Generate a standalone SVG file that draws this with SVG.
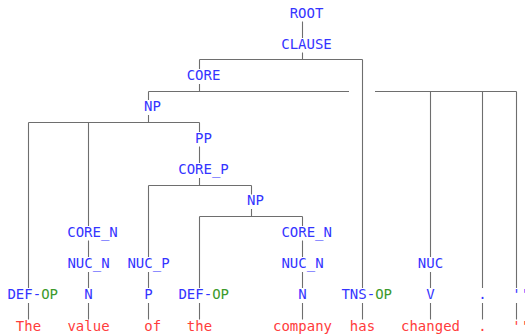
<svg xmlns="http://www.w3.org/2000/svg" width="525" height="334" viewBox="0 0 525 334">
<style>
text{font-family:"DejaVu Sans Mono","Liberation Mono",monospace;font-size:14px;text-anchor:middle}
.l{fill:#3434ff}
.g{fill:#3c9a2c}
.w{fill:#ff3c3c}
#edges line{stroke:#6e6e6e;stroke-width:1.1;fill:none}
</style>
<rect width="525" height="334" fill="#ffffff"/>
<g id="edges">
<line x1="302.5" y1="21.5" x2="302.5" y2="38"/>
<line x1="302.5" y1="52.5" x2="302.5" y2="59.5"/>
<line x1="199.5" y1="59.5" x2="362.5" y2="59.5"/>
<line x1="199.5" y1="59.5" x2="199.5" y2="69"/>
<line x1="362.5" y1="59.5" x2="362.5" y2="288"/>
<line x1="199.5" y1="84" x2="199.5" y2="91.5"/>
<line x1="148.5" y1="91.5" x2="349" y2="91.5"/>
<line x1="375" y1="91.5" x2="516.5" y2="91.5"/>
<line x1="148.5" y1="91.5" x2="148.5" y2="100"/>
<line x1="430.5" y1="91.5" x2="430.5" y2="257"/>
<line x1="482.5" y1="91.5" x2="482.5" y2="288"/>
<line x1="516.5" y1="91.5" x2="516.5" y2="288"/>
<line x1="148.5" y1="115" x2="148.5" y2="122.5"/>
<line x1="28.5" y1="122.5" x2="199.5" y2="122.5"/>
<line x1="28.5" y1="122.5" x2="28.5" y2="288"/>
<line x1="88.5" y1="122.5" x2="88.5" y2="226"/>
<line x1="199.5" y1="122.5" x2="199.5" y2="132"/>
<line x1="199.5" y1="146.5" x2="199.5" y2="163"/>
<line x1="199.5" y1="178" x2="199.5" y2="185.5"/>
<line x1="148.5" y1="185.5" x2="251.5" y2="185.5"/>
<line x1="148.5" y1="185.5" x2="148.5" y2="257"/>
<line x1="251.5" y1="185.5" x2="251.5" y2="194.5"/>
<line x1="251.5" y1="209" x2="251.5" y2="216.5"/>
<line x1="199.5" y1="216.5" x2="302.5" y2="216.5"/>
<line x1="199.5" y1="216.5" x2="199.5" y2="288"/>
<line x1="302.5" y1="216.5" x2="302.5" y2="226"/>
<line x1="88.5" y1="240.5" x2="88.5" y2="257"/>
<line x1="302.5" y1="240.5" x2="302.5" y2="257"/>
<line x1="88.5" y1="272" x2="88.5" y2="288"/>
<line x1="148.5" y1="272" x2="148.5" y2="288"/>
<line x1="302.5" y1="272" x2="302.5" y2="288"/>
<line x1="430.5" y1="272" x2="430.5" y2="288"/>
<line x1="28.5" y1="303" x2="28.5" y2="319.5"/>
<line x1="88.5" y1="303" x2="88.5" y2="319.5"/>
<line x1="148.5" y1="303" x2="148.5" y2="319.5"/>
<line x1="199.5" y1="303" x2="199.5" y2="319.5"/>
<line x1="302.5" y1="303" x2="302.5" y2="319.5"/>
<line x1="362.5" y1="303" x2="362.5" y2="319.5"/>
<line x1="430.5" y1="303" x2="430.5" y2="319.5"/>
<line x1="482.5" y1="303" x2="482.5" y2="319.5"/>
<line x1="516.5" y1="303" x2="516.5" y2="319.5"/>
</g>
<g id="n-root"><text class="l" x="306.5" y="17.5">ROOT</text></g>
<g id="n-clause"><text class="l" x="306.5" y="48.8">CLAUSE</text></g>
<g id="n-core"><text class="l" x="203.5" y="80.1">CORE</text></g>
<g id="n-np1"><text class="l" x="152.5" y="111.4">NP</text></g>
<g id="n-pp"><text class="l" x="203.5" y="142.7">PP</text></g>
<g id="n-corep"><text class="l" x="203.5" y="174">CORE_P</text></g>
<g id="n-np2"><text class="l" x="255.5" y="205.3">NP</text></g>
<g id="n-coren1"><text class="l" x="92.5" y="236.6">CORE_N</text></g>
<g id="n-coren2"><text class="l" x="306.7" y="236.6">CORE_N</text></g>
<g id="n-nucn1"><text class="l" x="88.5" y="267.9">NUC_N</text></g>
<g id="n-nucp"><text class="l" x="148.5" y="267.9">NUC_P</text></g>
<g id="n-nucn2"><text class="l" x="302.5" y="267.9">NUC_N</text></g>
<g id="n-nuc"><text class="l" x="430.5" y="267.9">NUC</text></g>
<g id="n-defop1"><text x="32.7" y="299.2"><tspan class="l">DEF-</tspan><tspan class="g">OP</tspan></text></g>
<g id="n-n1"><text class="l" x="88.5" y="299.2">N</text></g>
<g id="n-p"><text class="l" x="148.5" y="299.2">P</text></g>
<g id="n-defop2"><text x="203.7" y="299.2"><tspan class="l">DEF-</tspan><tspan class="g">OP</tspan></text></g>
<g id="n-n2"><text class="l" x="302.5" y="299.2">N</text></g>
<g id="n-tnsop"><text x="366.7" y="299.2"><tspan class="l">TNS-</tspan><tspan class="g">OP</tspan></text></g>
<g id="n-v"><text class="l" x="430.5" y="299.2">V</text></g>
<g id="n-punct1"><text class="l" x="482.5" y="299.2">.</text></g>
<g id="n-punct2"><text class="l" x="520.7" y="299.2">''</text></g>
<g id="w-the1"><text class="w" x="28.5" y="330.5">The</text></g>
<g id="w-value"><text class="w" x="88.5" y="330.5">value</text></g>
<g id="w-of"><text class="w" x="152.7" y="330.5">of</text></g>
<g id="w-the2"><text class="w" x="199.5" y="330.5">the</text></g>
<g id="w-company"><text class="w" x="302.5" y="330.5">company</text></g>
<g id="w-has"><text class="w" x="362.5" y="330.5">has</text></g>
<g id="w-changed"><text class="w" x="430.5" y="330.5">changed</text></g>
<g id="w-dot"><text class="w" x="482.5" y="330.5">.</text></g>
<g id="w-quote"><text class="w" x="520.7" y="330.5">''</text></g>
</svg>
